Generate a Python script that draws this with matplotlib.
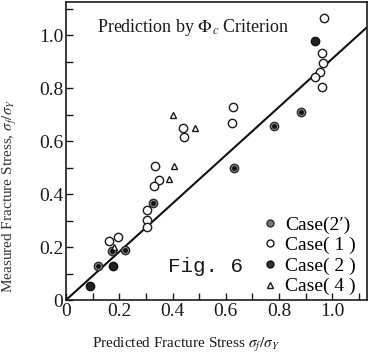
import matplotlib
matplotlib.use("Agg")
import matplotlib.pyplot as plt
from matplotlib.lines import Line2D

plt.rcParams['font.family'] = ['Liberation Serif', 'DejaVu Serif']
plt.rcParams['mathtext.fontset'] = 'stix'

# data (predicted, measured)
case1_x = [0.969, 0.961, 0.964, 0.955, 0.935, 0.961, 0.627, 0.624, 0.44, 0.444,
           0.335, 0.351, 0.329, 0.303, 0.303, 0.303, 0.16, 0.194]
case1_y = [1.064, 0.932, 0.894, 0.861, 0.842, 0.805, 0.729, 0.669, 0.65, 0.616,
           0.507, 0.453, 0.43, 0.34, 0.302, 0.275, 0.222, 0.238]
case2p_x = [0.883, 0.78, 0.63, 0.325, 0.172, 0.22, 0.12]
case2p_y = [0.71, 0.657, 0.497, 0.365, 0.185, 0.189, 0.128]
case2_x = [0.935, 0.175, 0.09]
case2_y = [0.977, 0.128, 0.053]
case4_x = [0.40, 0.485, 0.406, 0.388, 0.18]
case4_y = [0.70, 0.65, 0.507, 0.457, 0.20]
line_x = [0.0, 1.13]
line_y = [0.0, 1.03]

xticks = [0, 0.2, 0.4, 0.6, 0.8, 1.0]
xticklabels = ['0', '0.2', '0.4', '0.6', '0.8', '1.0']
yticks = [0, 0.2, 0.4, 0.6, 0.8, 1.0]
yticklabels = ['0', '0.2', '0.4', '0.6', '0.8', '1.0']

fig = plt.figure(figsize=(3.71, 3.58), dpi=100)
ax = fig.add_axes([0.178, 0.162, 0.811, 0.832])

ax.plot(line_x, line_y, color='#111111', linewidth=1.5, zorder=1)

ink = '#1a1a1a'
ax.plot(case1_x, case1_y, linestyle='none', marker='o', markersize=6,
        markerfacecolor='white', markeredgecolor=ink, markeredgewidth=1.0, zorder=3)
ax.plot(case2p_x, case2p_y, linestyle='none', marker='o', markersize=6,
        markerfacecolor='#8a8a8a', markeredgecolor='#2a2a2a', markeredgewidth=1.0, zorder=3)
ax.plot(case2p_x, case2p_y, linestyle='none', marker='o', markersize=2.5,
        markerfacecolor='#111111', markeredgecolor='#111111', zorder=4)
ax.plot(case2_x, case2_y, linestyle='none', marker='o', markersize=6,
        markerfacecolor='#222222', markeredgecolor='#111111', markeredgewidth=1.0, zorder=3)
ax.plot(case4_x, case4_y, linestyle='none', marker='^', markersize=5,
        markerfacecolor='white', markeredgecolor=ink, markeredgewidth=1.0, zorder=3)

ax.set_xlim(0, 1.13)
ax.set_ylim(0, 1.125)
ax.set_xticks(xticks)
ax.set_xticklabels(xticklabels)
ax.set_yticks(yticks)
ax.set_yticklabels(yticklabels)
ax.set_xticks([0.1, 0.3, 0.5, 0.7, 0.9, 1.1], minor=True)
ax.set_yticks([0.1, 0.3, 0.5, 0.7, 0.9, 1.1], minor=True)
ax.tick_params(which='both', direction='in', length=5, width=1.0, color=ink)
ax.tick_params(axis='both', labelsize=14, pad=2, labelcolor=ink)
for s in ax.spines.values():
    s.set_linewidth(1.2)
    s.set_color(ink)

ax.set_xlabel(r'Predicted Fracture Stress $\sigma_f/\sigma_Y$', fontsize=11, color=ink)
ax.xaxis.set_label_coords(0.40, -0.12)
ax.set_ylabel(r'Measured Fracture Stress, $\sigma_f/\sigma_Y$', fontsize=11, color='#333333')
ax.yaxis.set_label_coords(-0.155, 0.35)

ax.text(0.103, 0.916, r'Prediction by $\Phi_c$ Criterion', transform=ax.transAxes,
        fontsize=13, va='center', ha='left', color=ink)
ax.text(0.462, 0.111, 'Fig. 6', transform=ax.transAxes, fontsize=15,
        family='Liberation Mono', va='center', ha='center', color=ink)

handles = [
    Line2D([], [], linestyle='none', marker='o', markersize=5,
           markerfacecolor='#7a7a7a', markeredgecolor='#2a2a2a'),
    Line2D([], [], linestyle='none', marker='o', markersize=5,
           markerfacecolor='white', markeredgecolor=ink),
    Line2D([], [], linestyle='none', marker='o', markersize=5,
           markerfacecolor='#333333', markeredgecolor='#111111'),
    Line2D([], [], linestyle='none', marker='^', markersize=4.5,
           markerfacecolor='white', markeredgecolor=ink),
]
labels = ['Case(2′)', 'Case( 1 )', 'Case( 2 )', 'Case( 4 )']
ax.legend(handles, labels, loc='upper left', bbox_to_anchor=(0.651, 0.282),
          frameon=False, fontsize=14, handlelength=0.8, handletextpad=0.4,
          labelspacing=0.15, borderpad=0, borderaxespad=0)

fig.savefig('out.png', dpi=100)
